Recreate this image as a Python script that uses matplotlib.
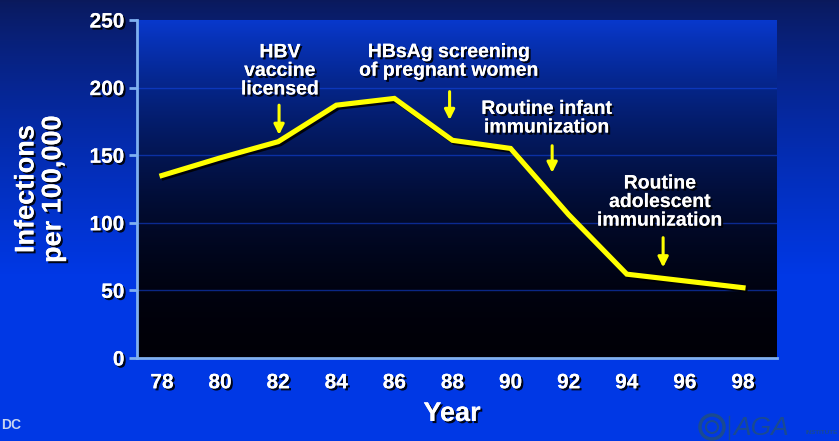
import numpy as np
import matplotlib
matplotlib.use("Agg")
import matplotlib.pyplot as plt
import matplotlib.patheffects as pe
from matplotlib.patches import Ellipse

# ---- data ----
years = [78, 80, 82, 84, 86, 88, 90, 92, 94, 96, 98]
infections = [135, 148, 160, 187, 192, 161, 155, 106, 62, 57, 52]
xtick_labels = ["78", "80", "82", "84", "86", "88", "90", "92", "94", "96", "98"]
yticks = [0, 50, 100, 150, 200, 250]
events = ["HBV\nvaccine\nlicensed",
          "HBsAg screening\nof pregnant women",
          "Routine infant\nimmunization",
          "Routine\nadolescent\nimmunization"]
event_x = [82.03, 87.9, 91.43, 95.25]
text_x = [82.06, 87.88, 91.25, 95.14]
text_y = [212, 219, 177, 115]
arrow_top = [187, 197, 157, 89]
arrow_tip = [165, 176, 137, 67]

plt.rcParams['font.family'] = ['Liberation Sans', 'DejaVu Sans']
plt.rcParams['font.weight'] = 'bold'

W, H = 839, 441
fig = plt.figure(figsize=(W / 100, H / 100), dpi=100)

# figure background gradient
bg = fig.add_axes([0, 0, 1, 1], zorder=-10)
t = np.linspace(0, 1, 256)[:, None]  # 0 top -> 1 bottom
top_c = np.array([0.04, 0.10, 0.36])
bot_c = np.array([0.0, 0.22, 0.90])
tt = np.clip(t * 1.6, 0, 1) ** 0.8
grad = top_c[None, None, :] * (1 - tt[..., None]) + bot_c[None, None, :] * tt[..., None]
grad = np.repeat(grad, 4, axis=1)
bg.imshow(grad, aspect='auto', extent=[0, 1, 0, 1], origin='upper')
bg.set_xlim(0, 1)
bg.set_ylim(0, 1)
bg.axis('off')

ax = fig.add_axes([137 / W, 1 - 358 / H, (777 - 137) / W, (358 - 20) / H])
ax.set_xlim(77.14, 99.17)
ax.set_ylim(0, 250)

# plot area gradient
tp = np.linspace(1, 0, 256)[:, None]  # 1 top -> 0 bottom
pa_top = np.array([0.03, 0.22, 0.80])
pa_bot = np.array([0.0, 0.0, 0.03])
w = tp ** 1.9
pg = pa_top[None, None, :] * w[..., None] + pa_bot[None, None, :] * (1 - w[..., None])
pg = np.repeat(pg, 4, axis=1)
ax.imshow(pg, aspect='auto', extent=[77.14, 99.17, 0, 250], origin='upper', zorder=0)

for g in [50, 100, 150, 200]:
    ax.axhline(g, color=(0.08, 0.28, 0.90), lw=1.0, alpha=0.55, zorder=1)

shadow = [pe.withSimplePatchShadow(offset=(1.5, -1.5), shadow_rgbFace='black', alpha=0.9), pe.Normal()]

ax.plot(years, infections, color='#ffff00', lw=3.7, solid_joinstyle='miter', zorder=5,
        path_effects=[pe.SimpleLineShadow(offset=(1.5, -1.5), shadow_color='black', alpha=0.9), pe.Normal()])

for lab, ex, tx, ty, a0, a1 in zip(events, event_x, text_x, text_y, arrow_top, arrow_tip):
    ax.text(tx, ty, lab, color='white', fontsize=14, ha='center', va='center',
            linespacing=1.12, zorder=6, path_effects=shadow)
    ax.annotate('', xy=(ex, a1), xytext=(ex, a0),
                arrowprops=dict(arrowstyle='-|>,head_length=0.6,head_width=0.3', color='#ffff00',
                                lw=2.2, shrinkA=0, shrinkB=0), zorder=6)

for s in ['top', 'right']:
    ax.spines[s].set_visible(False)
for s in ['left', 'bottom']:
    ax.spines[s].set_color('#7fb0f0')
    ax.spines[s].set_linewidth(2)

ax.set_xticks(years)
ax.set_xticklabels(xtick_labels)
ax.set_yticks(yticks)
ax.tick_params(axis='x', length=0, pad=11, labelsize=15, labelcolor='white')
ax.tick_params(axis='y', length=6, width=2, color='#7fb0f0', pad=3, labelsize=15, labelcolor='white')
for lbl in ax.get_xticklabels() + ax.get_yticklabels():
    lbl.set_path_effects(shadow)
    lbl.set_fontweight('bold')

fig.text(452 / W, 1 - 414 / H, "Year", color='white', fontsize=19.5, ha='center', va='center',
         path_effects=shadow)
fig.text(40 / W, 1 - 189 / H, "Infections\nper 100,000", color='white', fontsize=19.5,
         ha='center', va='center', rotation=90, linespacing=1.05, path_effects=shadow)

fig.text(1 / W, 1 - 425 / H, "DC", color='#c8d4f0', fontsize=10, ha='left', va='center')

logo_c = '#1a4a90'
bg.add_patch(Ellipse((712 / W, 1 - 427 / H), 24 / W, 24 / H, transform=bg.transAxes,
                     facecolor='none', edgecolor=logo_c, lw=2.5))
bg.add_patch(Ellipse((712 / W, 1 - 427 / H), 12 / W, 12 / H, transform=bg.transAxes,
                     facecolor='none', edgecolor=logo_c, lw=1.5))
bg.plot([729 / W, 729 / W], [1 - 416 / H, 1 - 439 / H], color=logo_c, lw=1, transform=bg.transAxes)
fig.text(733 / W, 1 - 428 / H, "AGA", color=logo_c, fontsize=19, ha='left', va='center',
         style='italic', fontweight='normal')
fig.text(838 / W, 1 - 433 / H, "INSTITUTE", color=logo_c, fontsize=4.5, ha='right', va='center')

fig.savefig("out.png", dpi=100)
